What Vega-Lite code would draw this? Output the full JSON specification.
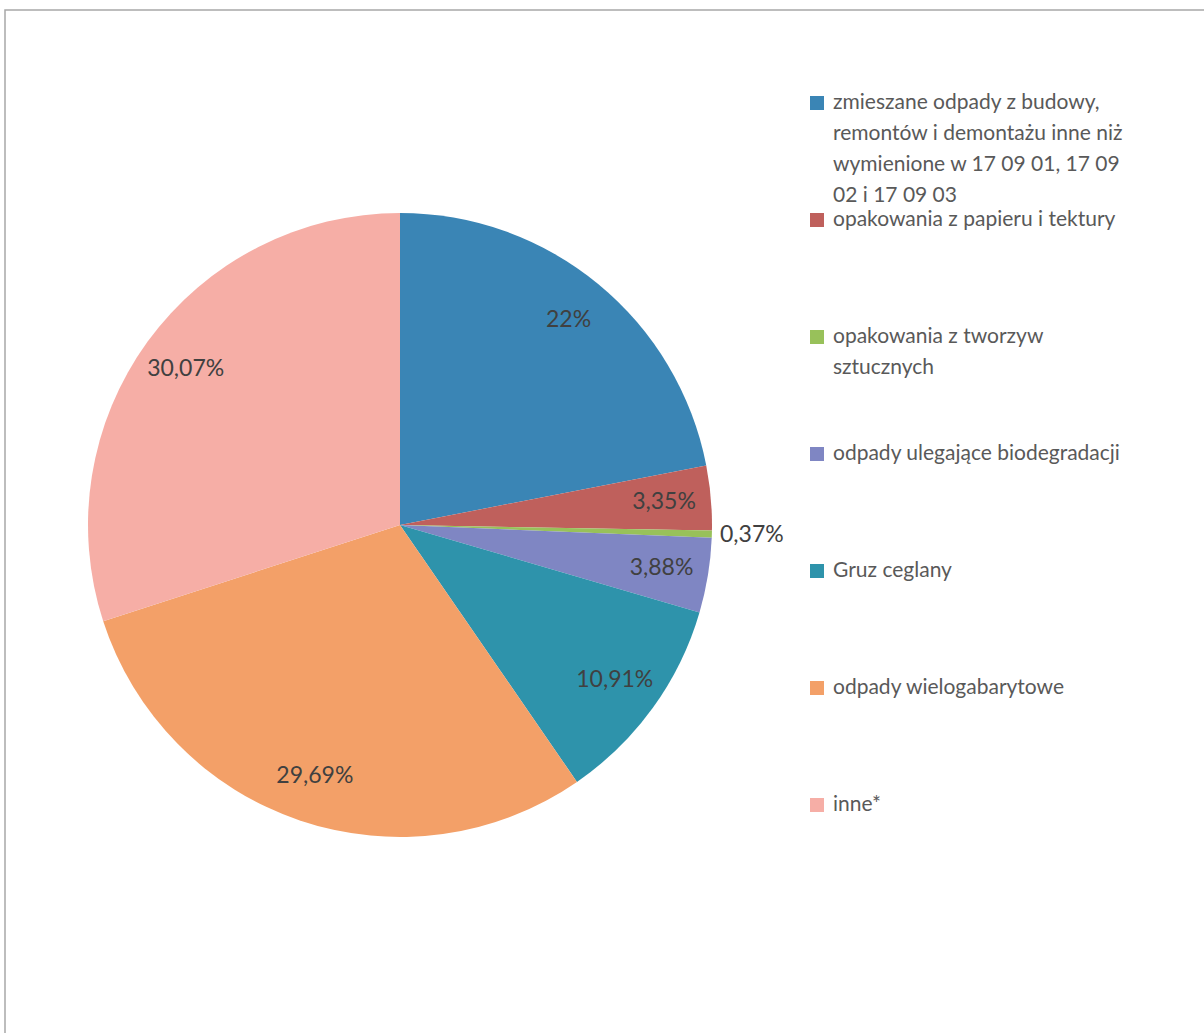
{
  "$schema": "https://vega.github.io/schema/vega-lite/v6.json",
  "width": 1200,
  "height": 1030,
  "padding": {"left": 5, "top": 10, "right": 0, "bottom": 0},
  "autosize": {"type": "none"},
  "background": "white",
  "config": {
    "view": {"stroke": "#a8a8a8", "strokeWidth": 1.5},
    "font": "Lato"
  },
  "data": {
    "values": [
      {"ord": 1, "category": "zmieszane odpady z budowy, remontów i demontażu inne niż wymienione  w 17 09 01, 17 09 02 i 17 09 03", "legendText": "zmieszane odpady z budowy,\nremontów i demontażu inne niż\nwymienione  w 17 09 01, 17 09\n02 i 17 09 03", "value": 22, "label": "22%"},
      {"ord": 2, "category": "opakowania z papieru i tektury", "legendText": "opakowania z papieru i tektury", "value": 3.35, "label": "3,35%"},
      {"ord": 3, "category": "opakowania z tworzyw sztucznych", "legendText": "opakowania z tworzyw\nsztucznych", "value": 0.37, "label": "0,37%"},
      {"ord": 4, "category": "odpady ulegające biodegradacji", "legendText": "odpady ulegające biodegradacji", "value": 3.88, "label": "3,88%"},
      {"ord": 5, "category": "Gruz ceglany", "legendText": "Gruz ceglany", "value": 10.91, "label": "10,91%"},
      {"ord": 6, "category": "odpady wielogabarytowe", "legendText": "odpady wielogabarytowe", "value": 29.69, "label": "29,69%"},
      {"ord": 7, "category": "inne*", "legendText": "inne*", "value": 30.07, "label": "30,07%"}
    ]
  },
  "layer": [
    {
      "mark": {"type": "arc", "outerRadius": 312, "xOffset": -205},
      "encoding": {
        "theta": {"field": "value", "type": "quantitative", "stack": true},
        "order": {"field": "ord", "type": "quantitative"},
        "color": {
          "field": "category", "type": "nominal", "legend": null,
          "scale": {
            "domain": ["zmieszane odpady z budowy, remontów i demontażu inne niż wymienione  w 17 09 01, 17 09 02 i 17 09 03", "opakowania z papieru i tektury", "opakowania z tworzyw sztucznych", "odpady ulegające biodegradacji", "Gruz ceglany", "odpady wielogabarytowe", "inne*"],
            "range": ["#3a85b5", "#bf605c", "#98c15a", "#7f86c3", "#2e93ab", "#f3a068", "#f6aea6"]
          }
        }
      }
    },
    {
      "mark": {"type": "text", "radius": 265, "xOffset": -205, "fontSize": 23, "color": "#404040", "align": "center", "baseline": "middle"},
      "encoding": {
        "theta": {"field": "value", "type": "quantitative", "stack": true},
        "order": {"field": "ord", "type": "quantitative"},
        "detail": {"field": "category", "type": "nominal"},
        "text": {"condition": {"test": "datum.value >= 1", "field": "label"}, "value": ""}
      }
    },
    {
      "mark": {"type": "text", "radius": 352, "xOffset": -205, "fontSize": 23, "color": "#404040", "align": "center", "baseline": "middle"},
      "encoding": {
        "theta": {"field": "value", "type": "quantitative", "stack": true},
        "order": {"field": "ord", "type": "quantitative"},
        "detail": {"field": "category", "type": "nominal"},
        "text": {"condition": {"test": "datum.value < 1", "field": "label"}, "value": ""}
      }
    },
    {
      "mark": {"type": "square", "size": 196, "opacity": 1, "filled": true, "xOffset": 212},
      "encoding": {
        "y": {"field": "ord", "type": "ordinal", "axis": null, "scale": {"type": "point", "range": [93, 795], "padding": 0}},
        "color": {"field": "category", "type": "nominal", "legend": null}
      }
    },
    {
      "mark": {"type": "text", "xOffset": 228, "align": "left", "baseline": "top", "dy": -11, "fontSize": 21, "color": "#595959", "lineBreak": "\n", "lineHeight": 31},
      "encoding": {
        "y": {"field": "ord", "type": "ordinal", "axis": null},
        "text": {"field": "legendText"}
      }
    }
  ]
}
